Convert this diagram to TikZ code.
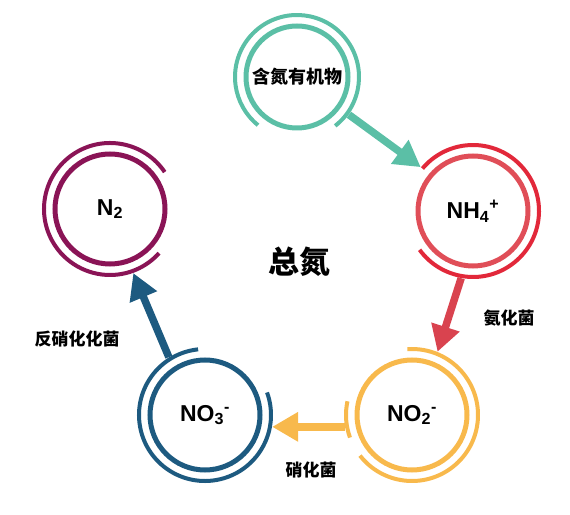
\documentclass[tikz,border=0pt]{standalone}
\usepackage{fontspec}
\setmainfont{Liberation Sans}
\newfontfamily\cjk{Noto Sans CJK SC}
\usetikzlibrary{arrows.meta, positioning}
\definecolor{cgreen}{HTML}{5BBFA6}
\definecolor{cred}{HTML}{E2283A}
\definecolor{credin}{HTML}{E04E58}
\definecolor{carrred}{HTML}{D9434F}
\definecolor{cyellow}{HTML}{F8B94C}
\definecolor{cblue}{HTML}{1D5A80}
\definecolor{cpurple}{HTML}{8A1456}
\tikzset{%
    ringsty/.style={
        circle,
        inner sep=0pt,
        minimum size=136pt,
        align=center,
        font=\fontsize{23}{27}\selectfont\bfseries,
    },
    insty/.style={
        draw=#1,
        line width=5pt,
    },
    outsty/.style={
        draw=#1,
        line width=4pt,
    },
    arrsty/.style={
        draw=#1,
        line width=7.5pt,
        -{Triangle[length=26pt,width=28pt]},
    },
    labsty/.style={
        font=\cjk\fontsize{17}{20}\selectfont\bfseries,
    },
}

\begin{document}
\begin{tikzpicture}[x=1pt,y=1pt]
\useasboundingbox (0,0) rectangle (570,514);

% nitrogen forms
\node (org) [ringsty,minimum size=128pt,font=\cjk\fontsize{18}{22}\selectfont\bfseries] at (297,437) {含氮有机物};
\node (nh4) [ringsty] at (473,303) {NH\textsubscript{4}\textsuperscript{+}};
\node (no2) [ringsty] at (412,99) {NO\textsubscript{2}\textsuperscript{-}};
\node (no3) [ringsty] at (205,99) {NO\textsubscript{3}\textsuperscript{-}};
\node (n2) [ringsty] at (110,305) {N\textsubscript{2}};

% rings
\draw[insty=cgreen] (org.center) circle[radius=51pt];
\draw[outsty=cgreen] (org.center) ++(-52:62pt) arc[start angle=-52,end angle=231,radius=62pt];
\draw[insty=credin] (nh4.center) circle[radius=55pt];
\draw[outsty=cred] (nh4.center) ++(-144:66pt) arc[start angle=-144,end angle=140,radius=66pt];
\draw[insty=cyellow] (no2.center) circle[radius=55pt];
\draw[outsty=cyellow] (no2.center) ++(-142:66pt) arc[start angle=-142,end angle=94,radius=66pt];
\draw[outsty=cyellow] (no2.center) ++(168:66pt) arc[start angle=168,end angle=200,radius=66pt];
\draw[insty=cblue] (no3.center) circle[radius=55pt];
\draw[outsty=cblue] (no3.center) ++(96:66pt) arc[start angle=96,end angle=380,radius=66pt];
\draw[insty=cpurple] (n2.center) circle[radius=55pt];
\draw[outsty=cpurple] (n2.center) ++(34:66pt) arc[start angle=34,end angle=318,radius=66pt];

% conversions
\draw[arrsty=cgreen] (org.-36) -- (nh4.140);
\draw[arrsty=carrred] (nh4.-100) -- (no2.68);
\draw[arrsty=cyellow] (no2.190) -- (no3.-10);
\draw[arrsty=cblue] (no3.122) -- (n2.-70);

% labels
\node (total) [font=\cjk\fontsize{31}{37}\selectfont\bfseries] at (299,252) {总氮};
\node (amm) [labsty] at (509,196) {氨化菌};
\node (nit) [labsty] at (311,44) {硝化菌};
\node (denit) [labsty] at (77,175) {反硝化化菌};

\end{tikzpicture}
\end{document}
